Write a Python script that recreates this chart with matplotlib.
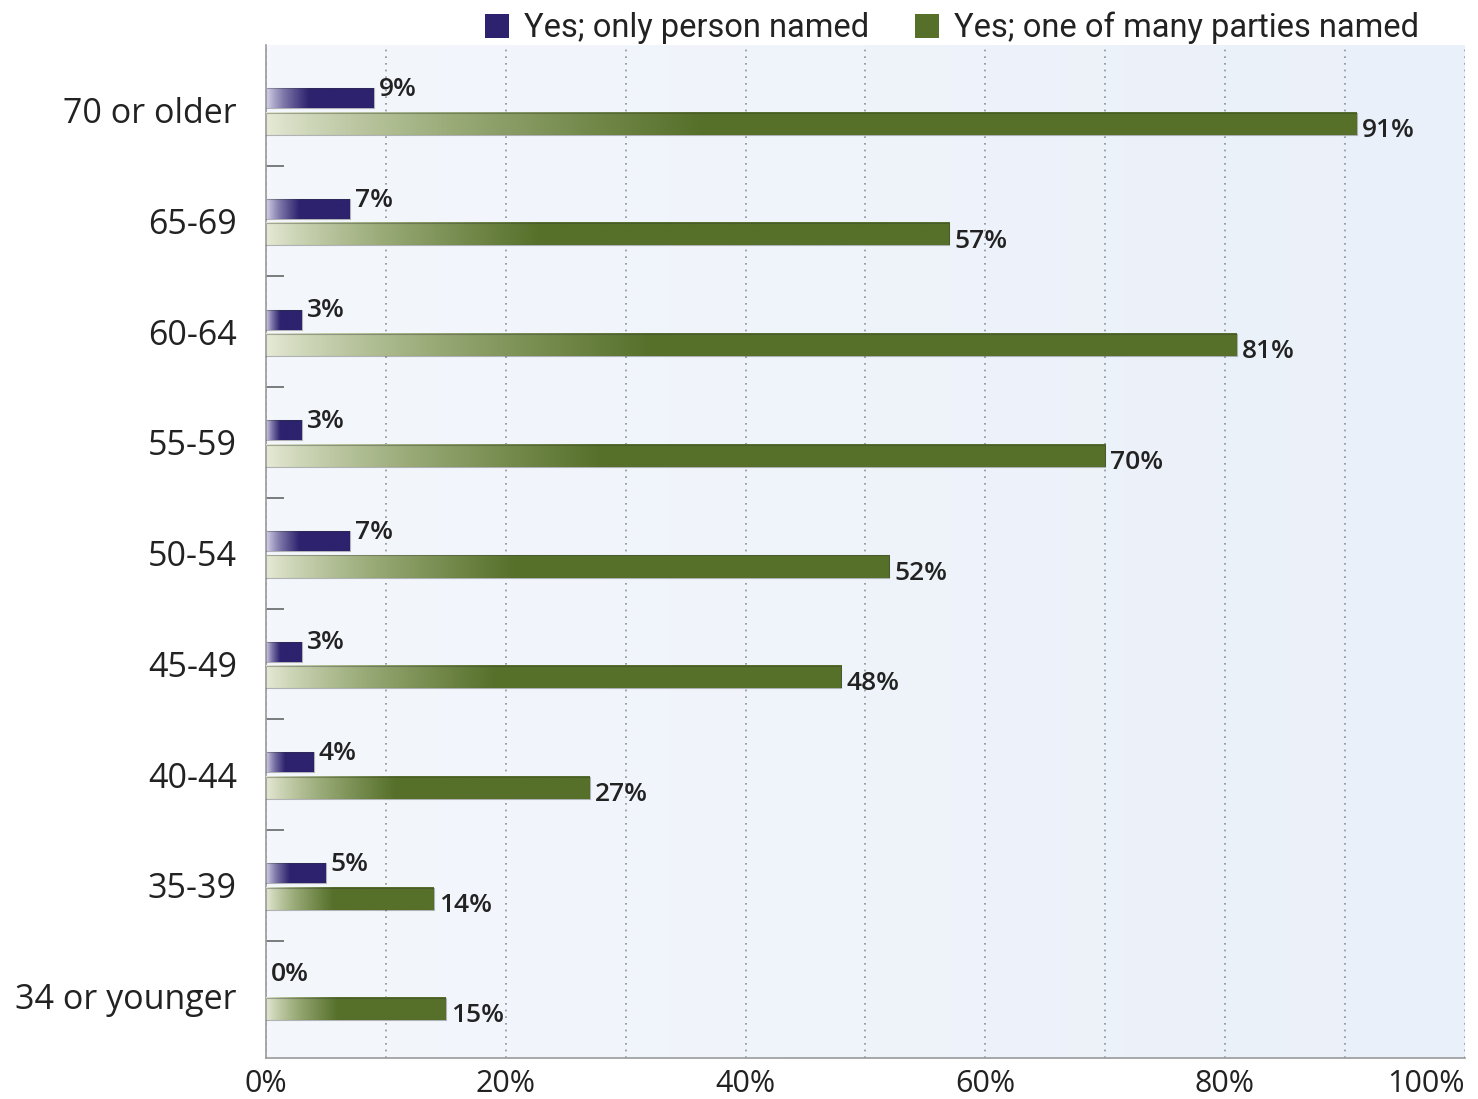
import numpy as np
import matplotlib.pyplot as plt
from matplotlib.colors import LinearSegmentedColormap
from matplotlib.patches import Patch, Rectangle

plt.rcParams['font.family'] = ['Open Sans', 'DejaVu Sans']

# --- data (top to bottom as in the chart) ---
age_groups = ["70 or older", "65-69", "60-64", "55-59", "50-54",
              "45-49", "40-44", "35-39", "34 or younger"]
only_person = [9, 7, 3, 3, 7, 3, 4, 5, 0]
many_parties = [91, 57, 81, 70, 52, 48, 27, 14, 15]

purple_dark = "#2c226e"
green_dark = "#56702a"
purple_cmap = LinearSegmentedColormap.from_list("p", ["#dcd9ec", "#7c76a8", purple_dark])
green_cmap = LinearSegmentedColormap.from_list("g", ["#e6ead6", "#9aab78", green_dark])

fig = plt.figure(figsize=(14.78, 10.99), dpi=100)
ax = fig.add_axes([0.18, 0.0373, 0.811, 0.9217])

n = len(age_groups)
ypos = np.arange(n)[::-1]  # top category at highest y


def gradient_bar(ax, x0, x1, yc, h, cmap):
    if x1 <= x0:
        return
    s = np.linspace(0, 1, 256)
    t = np.clip(s / 0.4, 0, 1) ** 0.8
    img = t[np.newaxis, :]
    ax.imshow(img, cmap=cmap, vmin=0, vmax=1, aspect='auto', interpolation='bilinear',
              extent=(x0, x1, yc - h / 2, yc + h / 2), zorder=3)
    ax.add_patch(Rectangle((x0, yc - h / 2), x1 - x0, h, fill=False,
                           edgecolor=(0.2, 0.2, 0.2, 0.35), lw=0.8, zorder=4))


# background gradient
bg = np.linspace(0, 1, 256)[np.newaxis, :]
bg_cmap = LinearSegmentedColormap.from_list("bg", ["#f4f7fc", "#eaf0f9"])
ax.imshow(bg, cmap=bg_cmap, aspect='auto', extent=(0, 1, 0, 1),
          transform=ax.transAxes, zorder=0)

h_p, h_g = 0.18, 0.20
for y, vp, vg in zip(ypos, only_person, many_parties):
    gradient_bar(ax, 0, vp, y + 0.11, h_p, purple_cmap)
    gradient_bar(ax, 0, vg, y - 0.12, h_g, green_cmap)
    ax.text(vp + 0.4, y + 0.19, f"{vp}%", fontsize=19, color="#222222",
            fontweight='semibold', va='center', ha='left', zorder=5)
    ax.text(vg + 0.4, y - 0.18, f"{vg}%", fontsize=19, color="#222222",
            fontweight='semibold', va='center', ha='left', zorder=5)

ax.set_xlim(0, 100)
ax.set_ylim(-0.56, n - 1 + 0.59)

ax.set_xticks(np.arange(0, 101, 20))
ax.set_xticklabels([f"{v}%" for v in range(0, 101, 20)], fontsize=22, color="#222222")
ax.get_xticklabels()[-1].set_horizontalalignment('right')
ax.set_xticks(np.arange(10, 100, 10), minor=True)
ax.xaxis.grid(True, which='both', linestyle=(0, (1, 3)), color="#8a8f99", lw=1.2, zorder=1)
ax.tick_params(axis='x', which='both', length=0, pad=8)

ax.set_yticks(ypos)
ax.set_yticklabels(age_groups, fontsize=24.5, color="#222222")
ax.set_yticks(np.arange(n - 1) + 0.5, minor=True)
ax.tick_params(axis='y', which='major', length=0, pad=21)
ax.tick_params(axis='y', which='minor', direction='in', length=13, width=1.2, color="#666666")

for side in ['top', 'right']:
    ax.spines[side].set_visible(False)
ax.spines['left'].set_color("#9a9a9a")
ax.spines['bottom'].set_color("#9a9a9a")
ax.spines['left'].set_linewidth(1.2)
ax.spines['bottom'].set_linewidth(1.2)
ax.set_axisbelow(True)

handles = [Patch(facecolor=purple_dark, label="Yes; only person named"),
           Patch(facecolor=green_dark, label="Yes; one of many parties named")]
fig.legend(handles=handles, loc='upper right', bbox_to_anchor=(0.98, 1.016), ncol=2,
           frameon=False, prop={'family': 'Roboto', 'size': 23.5}, handlelength=0.75,
           handleheight=0.75, handletextpad=0.45, columnspacing=1.4, labelcolor="#222222")

fig.savefig("out.png", dpi=100, facecolor="white")
